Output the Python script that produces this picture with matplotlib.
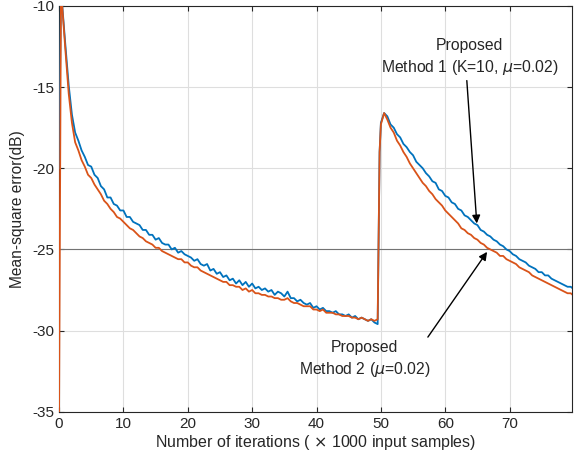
import matplotlib
matplotlib.use("Agg")
import matplotlib.pyplot as plt

plt.rcParams['font.family'] = ['Liberation Sans', 'DejaVu Sans']
plt.rcParams['mathtext.fontset'] = 'dejavusans'
plt.rcParams['axes.unicode_minus'] = False

# iteration axis (x 1000 input samples)
iters = [0, 0.3, 1.0, 1.5, 2.0, 2.5, 3.0, 3.5, 4.0, 4.5, 5.0, 5.5, 6.0, 6.5, 7.0, 7.5, 8.0, 8.5, 9.0, 9.5,
         10.0, 10.5, 11.0, 11.5, 12.0, 12.5, 13.0, 13.5, 14.0, 14.5, 15.0, 15.5, 16.0, 16.5, 17.0, 17.5,
         18.0, 18.5, 19.0, 19.5, 20.0, 20.5, 21.0, 21.5, 22.0, 22.5, 23.0, 23.5, 24.0, 24.5, 25.0, 25.5,
         26.0, 26.5, 27.0, 27.5, 28.0, 28.5, 29.0, 29.5, 30.0, 30.5, 31.0, 31.5, 32.0, 32.5, 33.0, 33.5,
         34.0, 34.5, 35.0, 35.5, 36.0, 36.5, 37.0, 37.5, 38.0, 38.5, 39.0, 39.5, 40.0, 40.5, 41.0, 41.5,
         42.0, 42.5, 43.0, 43.5, 44.0, 44.5, 45.0, 45.5, 46.0, 46.5, 47.0, 47.5, 48.0, 48.5, 49.0, 49.5,
         49.8, 50.0, 50.5, 51.0, 51.5, 52.0, 52.5, 53.0, 53.5, 54.0, 54.5, 55.0, 55.5, 56.0, 56.5, 57.0,
         57.5, 58.0, 58.5, 59.0, 59.5, 60.0, 60.5, 61.0, 61.5, 62.0, 62.5, 63.0, 63.5, 64.0, 64.5, 65.0,
         65.5, 66.0, 66.5, 67.0, 67.5, 68.0, 68.5, 69.0, 69.5, 70.0, 70.5, 71.0, 71.5, 72.0, 72.5, 73.0,
         73.5, 74.0, 74.5, 75.0, 75.5, 76.0, 76.5, 77.0, 77.5, 78.0, 78.5, 79.0, 79.5, 79.8]

# Proposed Method 1 (K=10, mu=0.02) -- blue
mse_method1 = [-20.0, -9.0, -12.5, -14.9, -16.7, -17.8, -18.3, -18.9, -19.3, -19.8, -19.9, -20.4, -20.6, -21.1,
               -21.3, -21.8, -21.8, -22.2, -22.3, -22.6, -22.6, -23.0, -23.0, -23.3, -23.4, -23.5, -23.8, -23.8,
               -24.1, -24.1, -24.4, -24.3, -24.6, -24.7, -24.7, -25.0, -24.9, -25.2, -25.1, -25.3, -25.4, -25.5,
               -25.7, -25.6, -25.9, -26.0, -25.9, -26.3, -26.2, -26.5, -26.4, -26.7, -26.6, -26.9, -26.8, -27.1,
               -26.9, -27.2, -27.0, -27.3, -27.1, -27.4, -27.3, -27.5, -27.4, -27.6, -27.5, -27.8, -27.6, -27.7,
               -27.9, -27.6, -28.0, -28.0, -28.2, -28.1, -28.3, -28.4, -28.3, -28.6, -28.5, -28.7, -28.6, -28.8,
               -28.8, -28.9, -28.8, -29.0, -29.0, -29.1, -29.0, -29.2, -29.1, -29.3, -29.2, -29.3, -29.4, -29.3,
               -29.5, -29.6, -19.0, -17.2, -16.6, -16.8, -17.3, -17.5, -17.9, -18.1, -18.5, -18.7, -19.0, -19.2,
               -19.6, -19.8, -20.0, -20.3, -20.5, -20.8, -20.9, -21.3, -21.4, -21.7, -21.8, -22.1, -22.2, -22.5,
               -22.6, -22.9, -23.0, -23.2, -23.4, -23.5, -23.8, -23.9, -24.1, -24.2, -24.4, -24.5, -24.7, -24.8,
               -25.0, -25.1, -25.3, -25.4, -25.6, -25.7, -25.8, -26.0, -26.1, -26.2, -26.4, -26.4, -26.6, -26.6,
               -26.8, -26.9, -27.0, -27.1, -27.2, -27.3, -27.3, -27.4]

# Proposed Method 2 (mu=0.02) -- orange
mse_method2 = [-35.0, -9.0, -12.8, -15.4, -17.2, -18.4, -18.9, -19.5, -19.9, -20.4, -20.6, -21.0, -21.3, -21.6,
               -22.0, -22.2, -22.5, -22.7, -23.0, -23.1, -23.3, -23.5, -23.7, -23.8, -24.0, -24.2, -24.3, -24.5,
               -24.6, -24.7, -24.9, -24.9, -25.1, -25.2, -25.3, -25.4, -25.5, -25.6, -25.6, -25.8, -25.8, -26.0,
               -26.1, -26.1, -26.3, -26.4, -26.5, -26.6, -26.7, -26.8, -26.9, -27.0, -27.0, -27.2, -27.2, -27.3,
               -27.3, -27.5, -27.4, -27.6, -27.5, -27.7, -27.7, -27.8, -27.8, -27.9, -27.9, -28.0, -28.0, -28.1,
               -28.1, -28.0, -28.2, -28.3, -28.3, -28.4, -28.5, -28.5, -28.5, -28.7, -28.7, -28.8, -28.7, -28.9,
               -28.9, -28.9, -29.0, -29.0, -29.1, -29.1, -29.1, -29.2, -29.2, -29.3, -29.2, -29.3, -29.4, -29.3,
               -29.4, -29.3, -19.0, -17.3, -16.6, -17.0, -17.5, -17.8, -18.3, -18.6, -19.0, -19.3, -19.7, -20.0,
               -20.3, -20.6, -20.9, -21.1, -21.4, -21.6, -21.9, -22.1, -22.3, -22.6, -22.8, -23.0, -23.2, -23.4,
               -23.7, -23.8, -24.0, -24.1, -24.3, -24.4, -24.6, -24.7, -24.9, -25.0, -25.1, -25.2, -25.4, -25.4,
               -25.6, -25.7, -25.8, -25.9, -26.1, -26.2, -26.3, -26.4, -26.6, -26.7, -26.8, -26.9, -27.0, -27.1,
               -27.2, -27.3, -27.4, -27.5, -27.6, -27.7, -27.7, -27.8]

x_ticks = [0, 10, 20, 30, 40, 50, 60, 70]
y_ticks = [-35, -30, -25, -20, -15, -10]

fig = plt.figure(figsize=(5.79, 4.55), dpi=100)
ax = fig.add_axes([0.102, 0.095, 0.886, 0.892])

ax.plot(iters, mse_method1, color='#0072BD', lw=1.3, zorder=3)
ax.plot(iters, mse_method2, color='#D95319', lw=1.3, zorder=3)
ax.axhline(-25, color='0.45', lw=0.8, zorder=2)

ax.set_xlim(0, 79.7)
ax.set_ylim(-35, -10)
ax.set_xticks(x_ticks)
ax.set_yticks(y_ticks)
ax.grid(True, color='0.87', lw=0.8)
ax.set_axisbelow(True)
ax.tick_params(direction='in', top=True, right=True, labelsize=11, colors='0.15', length=3.5)
for s in ax.spines.values():
    s.set_color('0.15')
    s.set_linewidth(0.8)

ax.set_xlabel('Number of iterations ( $\\times$ 1000 input samples)', fontsize=11.5, color='0.15', labelpad=2)
ax.set_ylabel('Mean-square error(dB)', fontsize=11.2, color='0.15', labelpad=5)

# annotation texts
ax.text(63.8, -13.2, 'Proposed\nMethod 1 (K=10, $\\mu$=0.02)', ha='center', va='center',
        fontsize=11.3, color='0.15', linespacing=1.35)
ax.text(47.5, -31.8, 'Proposed\nMethod 2 ($\\mu$=0.02)', ha='center', va='center',
        fontsize=11.3, color='0.15', linespacing=1.35)
# arrows
ax.annotate('', xy=(64.9, -23.4), xytext=(63.35, -14.6),
            arrowprops=dict(arrowstyle='-|>', color='black', lw=1.0, mutation_scale=12, shrinkA=0, shrinkB=0))
ax.annotate('', xy=(66.5, -25.15), xytext=(57.3, -30.4),
            arrowprops=dict(arrowstyle='-|>', color='black', lw=1.0, mutation_scale=12, shrinkA=0, shrinkB=0))

fig.savefig('out.png', dpi=100)
